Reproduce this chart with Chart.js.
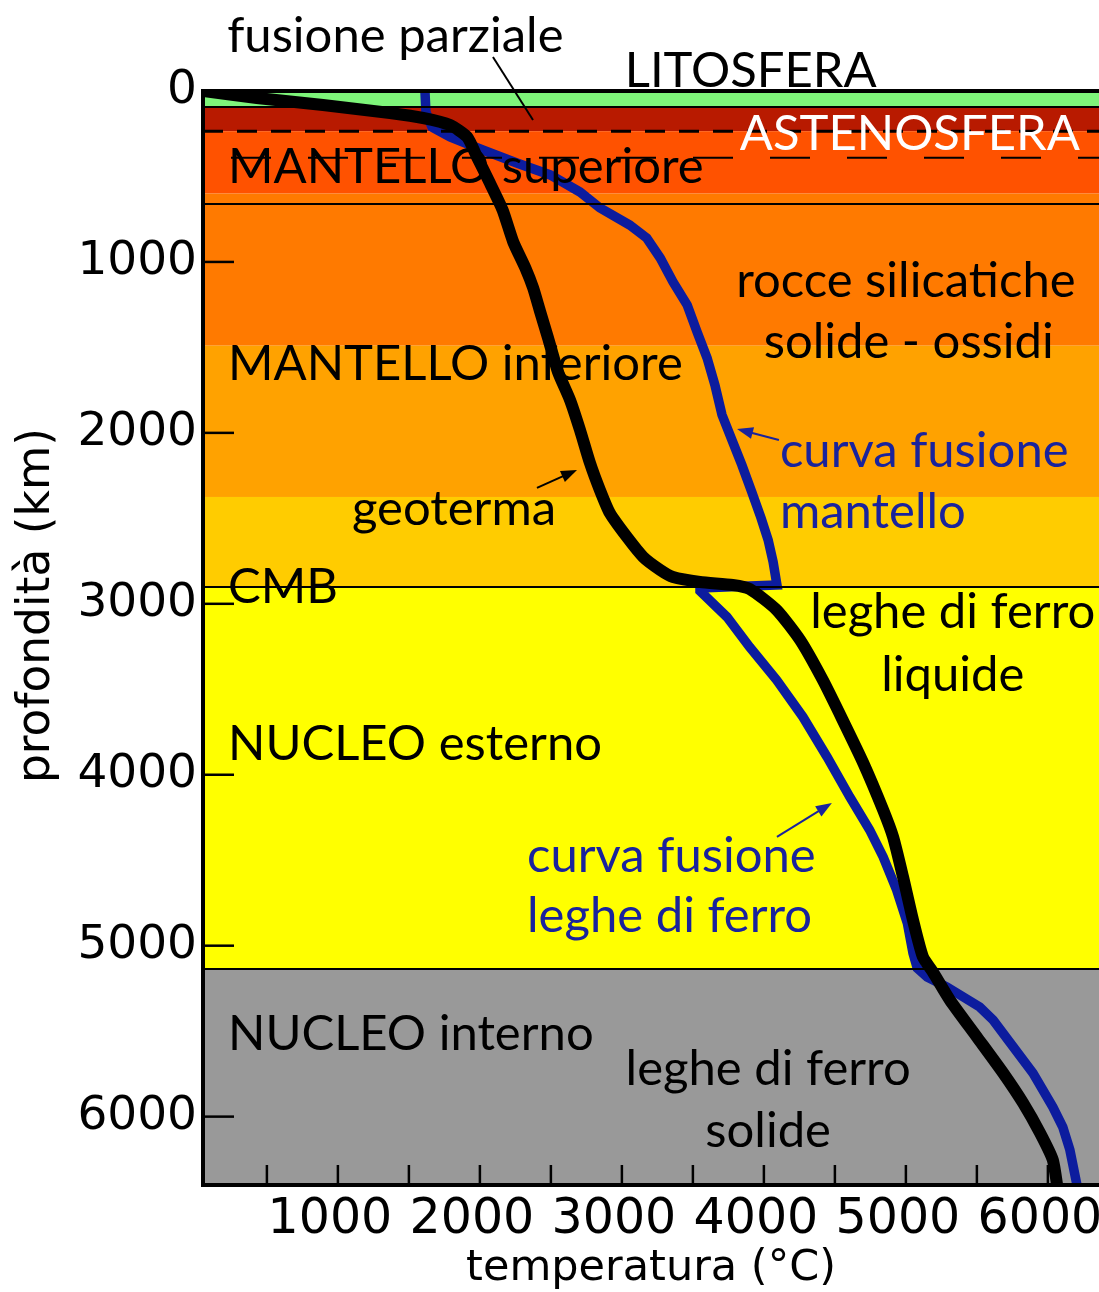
<!DOCTYPE html>
<html><head><meta charset="utf-8">
<script src="https://cdn.jsdelivr.net/npm/chart.js@4/dist/chart.umd.min.js"></script>
<style>html,body{margin:0;padding:0;background:#fff;}</style>
</head><body>
<canvas id="c" width="1099" height="1292"></canvas>
<script>
// ---------- DATA ----------
// geoterma: temperatura (°C) vs profondità (km)
const geothermTemp  = [50, 430, 895, 1367, 1600, 1790, 1910, 1980, 2070, 2160, 2235, 2320, 2375, 2425, 2480, 2550, 2635, 2705, 2775, 2845, 2915, 3035, 3150, 3270, 3360, 3550, 3780, 3900, 4090, 4255, 4415, 4555, 4700, 4840, 4910, 4980, 5050, 5120, 5190, 5310, 5500, 5685, 5825, 5945, 6035, 6070];
const geothermDepth = [0, 41, 82, 129, 158, 199, 269, 386, 538, 696, 883, 1035, 1152, 1293, 1445, 1644, 1808, 1983, 2176, 2334, 2469, 2609, 2726, 2802, 2843, 2872, 2890, 2913, 3036, 3212, 3446, 3680, 3931, 4206, 4364, 4598, 4850, 5066, 5154, 5318, 5534, 5745, 5920, 6096, 6254, 6430];
// curva di fusione del mantello
const mantleMeltTemp  = [1613, 1620, 1663, 1790, 2020, 2260, 2495, 2705, 2845, 3055, 3175, 3270, 3360, 3460, 3530, 3600, 3655, 3705, 3775, 3845, 3915, 3980, 4030, 4065, 4092, 3550];
const mantleMeltDepth = [0, 123, 211, 269, 345, 421, 491, 591, 684, 784, 860, 977, 1117, 1252, 1410, 1562, 1720, 1895, 2042, 2188, 2346, 2498, 2627, 2755, 2890, 2907];
// curva di fusione delle leghe di ferro
const ironMeltTemp  = [3550, 3740, 3900, 4090, 4275, 4445, 4605, 4745, 4840, 4935, 5010, 5050, 5080, 5150, 5290, 5520, 5615, 5735, 5895, 6035, 6105, 6155, 6212];
const ironMeltDepth = [2925, 3077, 3253, 3446, 3662, 3896, 4130, 4323, 4481, 4674, 4867, 5043, 5131, 5183, 5242, 5359, 5435, 5569, 5745, 5944, 6061, 6195, 6430];
// strati della Terra (limiti in km)
const layerNames = ['litosfera', 'astenosfera', 'mantello superiore', 'zona di transizione', 'mantello inferiore (alto)', 'mantello inferiore (basso)', 'nucleo esterno', 'nucleo interno'];
const layerTopKm    = [0, 95, 235, 600, 1490, 2375, 2900, 5135];
const layerBottomKm = [95, 235, 600, 1490, 2375, 2900, 5135, 6400];
const solidBoundaryKm = [95, 660, 2900, 5135];
const dashedBoundaryKm = [235];
const thinDashedBoundaryKm = [390];
const depthTicks = [0, 1000, 2000, 3000, 4000, 5000, 6000];
const tempTicks = [500, 1000, 1500, 2000, 2500, 3000, 3500, 4000, 4500, 5000, 5500, 6000];
const tempTickLabels = [1000, 2000, 3000, 4000, 5000, 6000];

// ---------- STYLE ----------
const layerColors = ['#7ef57a', '#b81a00', '#ff5200', '#ff7a00', '#ffa200', '#ffcc00', '#ffff00', '#999999'];
const BLUE_LINE = '#0c1c9e';
const BLUE_TEXT = '#1a239c';
const ANN_FONT = '49px Lato';

// annotations: text, x (°C), y (km, baseline), align, color
const annotations = [
  ['fusione parziale', 220, -228, 'left', '#000'],
  ['LITOSFERA', 3020, -23, 'left', '#000'],
  ['ASTENOSFERA', 3830, 345, 'left', '#fff'],
  ['MANTELLO superiore', 226, 538, 'left', '#000'],
  ['rocce silicatiche', 5000, 1205, 'center', '#000'],
  ['solide - ossidi', 5020, 1562, 'center', '#000'],
  ['MANTELLO inferiore', 226, 1691, 'left', '#000'],
  ['curva fusione', 4113, 2200, 'left', BLUE_TEXT],
  ['mantello', 4113, 2557, 'left', BLUE_TEXT],
  ['geoterma', 1099, 2539, 'left', '#000'],
  ['CMB', 226, 2995, 'left', '#000'],
  ['leghe di ferro', 5330, 3141, 'center', '#000'],
  ['liquide', 5330, 3510, 'center', '#000'],
  ['NUCLEO esterno', 226, 3914, 'left', '#000'],
  ['curva fusione', 2332, 4569, 'left', BLUE_TEXT],
  ['leghe di ferro', 2332, 4920, 'left', BLUE_TEXT],
  ['NUCLEO interno', 226, 5610, 'left', '#000'],
  ['leghe di ferro', 4030, 5815, 'center', '#000'],
  ['solide', 4030, 6178, 'center', '#000']
];
// pointers: [x1,y1,x2,y2,color,arrowhead]
const pointers = [
  [2092, -199, 2374, 170, '#000', false],
  [2402, 2322, 2684, 2217, '#000', true],
  [4106, 2042, 3811, 1977, BLUE_TEXT, true],
  [4092, 4364, 4479, 4165, BLUE_TEXT, true]
];

const blueTemp = mantleMeltTemp.concat(ironMeltTemp);
const blueDepth = mantleMeltDepth.concat(ironMeltDepth);

const layersPlugin = {
  id: 'layers',
  beforeDatasetsDraw(chart) {
    const {ctx, chartArea: a, scales: {y}} = chart;
    ctx.save();
    for (let i = 0; i < layerTopKm.length; i++) {
      const y1 = y.getPixelForValue(layerTopKm[i]);
      const y2 = y.getPixelForValue(layerBottomKm[i]);
      ctx.fillStyle = layerColors[i];
      ctx.fillRect(a.left, y1, a.right - a.left, y2 - y1);
    }
    ctx.restore();
  }
};

function drawArrow(ctx, x1, y1, x2, y2, color, head) {
  ctx.save();
  ctx.strokeStyle = color; ctx.fillStyle = color; ctx.lineWidth = 2;
  const ang = Math.atan2(y2 - y1, x2 - x1);
  const hl = head ? 16 : 0;
  ctx.beginPath();
  ctx.moveTo(x1, y1);
  ctx.lineTo(x2 - Math.cos(ang) * hl * 0.8, y2 - Math.sin(ang) * hl * 0.8);
  ctx.stroke();
  if (head) {
    ctx.beginPath();
    ctx.moveTo(x2, y2);
    ctx.lineTo(x2 - hl * Math.cos(ang) + 6 * Math.sin(ang), y2 - hl * Math.sin(ang) - 6 * Math.cos(ang));
    ctx.lineTo(x2 - hl * Math.cos(ang) - 6 * Math.sin(ang), y2 - hl * Math.sin(ang) + 6 * Math.cos(ang));
    ctx.closePath();
    ctx.fill();
  }
  ctx.restore();
}

const overlayPlugin = {
  id: 'overlay',
  afterDatasetsDraw(chart) {
    const {ctx, chartArea: a, scales: {x, y}} = chart;
    ctx.save();
    // boundary lines
    ctx.strokeStyle = '#000';
    ctx.lineWidth = 2;
    solidBoundaryKm.forEach(d => {
      const py = Math.round(y.getPixelForValue(d));
      ctx.beginPath(); ctx.moveTo(a.left, py); ctx.lineTo(a.right, py); ctx.stroke();
    });
    ctx.lineWidth = 3; ctx.setLineDash([20, 14]);
    dashedBoundaryKm.forEach(d => {
      const py = y.getPixelForValue(d);
      ctx.beginPath(); ctx.moveTo(a.left, py); ctx.lineTo(a.right, py); ctx.stroke();
    });
    ctx.lineWidth = 2; ctx.setLineDash([40, 37]); ctx.lineDashOffset = -28;
    thinDashedBoundaryKm.forEach(d => {
      const py = y.getPixelForValue(d);
      ctx.beginPath(); ctx.moveTo(a.left, py); ctx.lineTo(a.right, py); ctx.stroke();
    });
    ctx.setLineDash([]);
    // text
    ctx.font = ANN_FONT;
    ctx.textBaseline = 'alphabetic';
    annotations.forEach(([t, tx, ty, al, col]) => {
      ctx.fillStyle = col; ctx.textAlign = al;
      ctx.fillText(t, x.getPixelForValue(tx), y.getPixelForValue(ty));
    });
    pointers.forEach(([x1, y1, x2, y2, col, head]) => {
      drawArrow(ctx, x.getPixelForValue(x1), y.getPixelForValue(y1), x.getPixelForValue(x2), y.getPixelForValue(y2), col, head);
    });
    // frame
    ctx.strokeStyle = '#000';
    ctx.lineWidth = 4;
    ctx.beginPath();
    ctx.moveTo(a.right, a.top); ctx.lineTo(a.left, a.top); ctx.lineTo(a.left, a.bottom); ctx.lineTo(a.right, a.bottom);
    ctx.stroke();
    // tick marks (inside)
    ctx.lineWidth = 2.5;
    y.ticks.forEach(t => {
      if (t.value === 0) return;
      const py = y.getPixelForValue(t.value);
      ctx.beginPath(); ctx.moveTo(a.left, py); ctx.lineTo(a.left + 31, py); ctx.stroke();
    });
    x.ticks.forEach(t => {
      const px = x.getPixelForValue(t.value);
      ctx.beginPath(); ctx.moveTo(px, a.bottom); ctx.lineTo(px, a.bottom - 20); ctx.stroke();
    });
    // y-axis title
    ctx.save();
    ctx.translate(37, y.getPixelForValue(3010));
    ctx.rotate(-Math.PI / 2);
    ctx.font = '45.5px "DejaVu Sans"';
    ctx.fillStyle = '#000'; ctx.textAlign = 'center'; ctx.textBaseline = 'middle';
    ctx.fillText('profondità (km)', 0, 0);
    ctx.restore();
    ctx.restore();
  }
};

new Chart(document.getElementById('c'), {
  type: 'line',
  data: {
    datasets: [
      {
        label: 'geoterma',
        data: geothermTemp.map((t, i) => ({x: t, y: geothermDepth[i]})),
        borderColor: '#000', borderWidth: 12, pointRadius: 0, tension: 0.2,
        borderJoinStyle: 'round', borderCapStyle: 'butt', fill: false
      },
      {
        label: 'curva fusione',
        data: blueTemp.map((t, i) => ({x: t, y: blueDepth[i]})),
        borderColor: BLUE_LINE, borderWidth: 9.5, pointRadius: 0, tension: 0,
        borderJoinStyle: 'miter', fill: false
      }
    ]
  },
  options: {
    responsive: false, animation: false, devicePixelRatio: 1,
    layout: {padding: {top: 91, right: 0, bottom: 0, left: 0}},
    plugins: {legend: {display: false}, tooltip: {enabled: false}},
    scales: {
      x: {
        type: 'linear', position: 'bottom', min: 50, max: 6360,
        afterBuildTicks(s) { s.ticks = tempTicks.map(v => ({value: v})); },
        ticks: {
          labelOffset: -8, padding: 6,
          maxRotation: 0, autoSkip: false, color: '#000',
          font: {family: 'DejaVu Sans', size: 49},
          callback: v => tempTickLabels.includes(v) ? String(v) : ''
        },
        grid: {display: false, drawTicks: false}, border: {display: false},
        title: {display: true, text: 'temperatura (°C)', color: '#000',
          font: {family: 'DejaVu Sans', size: 43, lineHeight: 1.0}, padding: {top: 0, bottom: 1.5}},
        afterFit(s) { s.height = 107; s.paddingLeft = 0; s.paddingRight = 0; }
      },
      y: {
        type: 'linear', reverse: true, min: 0, max: 6400,
        afterBuildTicks(s) { s.ticks = depthTicks.map(v => ({value: v})); },
        ticks: {
          padding: 6, color: '#000', autoSkip: false,
          font: {family: 'DejaVu Sans', size: 47},
          callback: v => String(v)
        },
        grid: {display: false, drawTicks: false}, border: {display: false},
        title: {display: false},
        afterFit(s) { s.width = 203; s.paddingTop = 0; s.paddingBottom = 0; }
      }
    }
  },
  plugins: [layersPlugin, overlayPlugin]
});
</script>
</body></html>
